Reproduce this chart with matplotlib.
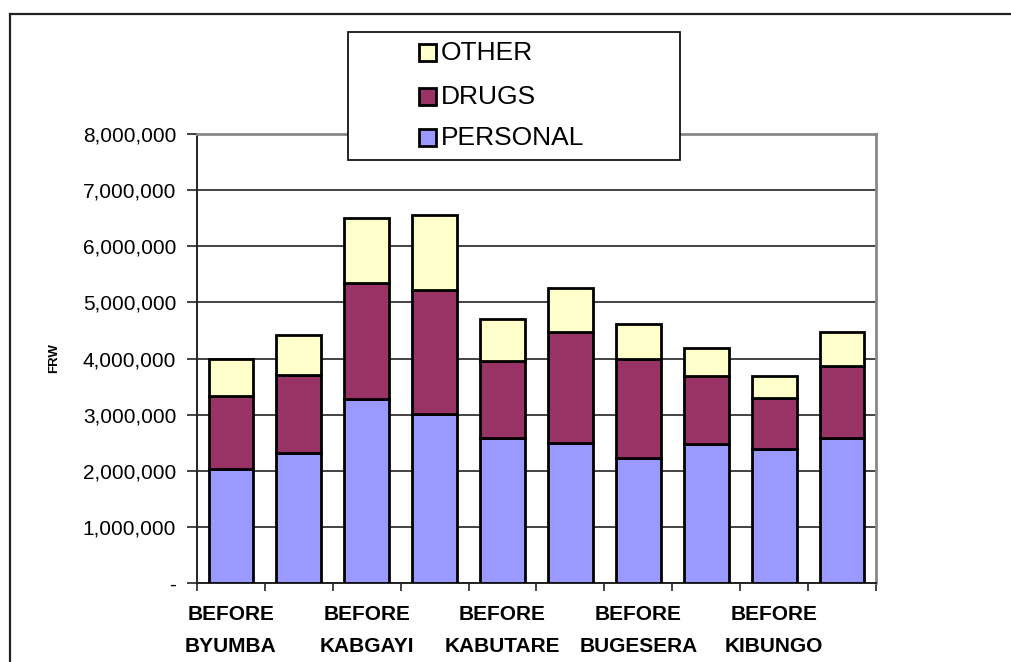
import matplotlib.pyplot as plt
import numpy as np
from matplotlib.patches import Rectangle
from matplotlib.lines import Line2D
from matplotlib.ticker import FuncFormatter

plt.rcParams['font.family'] = ['Liberation Sans', 'DejaVu Sans']

# only every other category gets a visible label
labels = ["BEFORE\nBYUMBA", "", "BEFORE\nKABGAYI", "", "BEFORE\nKABUTARE", "",
          "BEFORE\nBUGESERA", "", "BEFORE\nKIBUNGO", ""]

personal = [2040000, 2310000, 3270000, 3020000, 2590000, 2500000, 2230000, 2480000, 2390000, 2590000]
drugs = [1300000, 1400000, 2070000, 2200000, 1370000, 1980000, 1760000, 1200000, 910000, 1280000]
other = [660000, 710000, 1160000, 1340000, 740000, 770000, 620000, 510000, 380000, 600000]

series_names = ["OTHER", "DRUGS", "PERSONAL"]
col_personal = "#9999FF"
col_drugs = "#993366"
col_other = "#FFFFCC"

W, H = 1012, 662
fig = plt.figure(figsize=(W / 100, H / 100), dpi=100)

def fx(px):
    return px / W

def fy(py):
    return 1 - py / H

# outer chart frame (only top and left edges are inside the canvas)
fig.add_artist(Line2D([fx(10), fx(10)], [0, fy(14)], color="#222222", lw=1.6))
fig.add_artist(Line2D([fx(10), 1], [fy(14), fy(14)], color="#222222", lw=1.6))

ax = fig.add_axes([fx(197), fy(583), fx(876 - 197), (583 - 134) / H])

x = np.arange(len(personal))
w = 0.66
p = np.array(personal)
d = np.array(drugs)
o = np.array(other)

ax.bar(x, p, w, color=col_personal, edgecolor="black", linewidth=2, zorder=3)
ax.bar(x, d, w, bottom=p, color=col_drugs, edgecolor="black", linewidth=2, zorder=3)
ax.bar(x, o, w, bottom=p + d, color=col_other, edgecolor="black", linewidth=2, zorder=3)

ax.set_xlim(-0.5, len(x) - 0.5)
ax.set_ylim(0, 8000000)
ax.set_yticks(np.arange(0, 8000001, 1000000))
ax.yaxis.set_major_formatter(FuncFormatter(lambda v, pos: "-" if v == 0 else f"{int(v):,}"))
ax.grid(axis="y", color="#222222", linewidth=1.2, zorder=0)

ax.set_xticks(x)
ax.set_xticklabels(labels, fontsize=15, fontweight="bold", linespacing=1.85)
ax.set_xticks(np.arange(-0.5, len(x)), minor=True)
ax.tick_params(axis="x", which="major", length=0, pad=16)
ax.tick_params(axis="x", which="minor", length=6, width=1.2, color="#222222", direction="out")
ax.tick_params(axis="y", length=7, width=1.2, color="#222222", labelsize=15, pad=8)

for s in ["left", "bottom"]:
    ax.spines[s].set_color("#222222")
    ax.spines[s].set_linewidth(1.4)
for s in ["top", "right"]:
    ax.spines[s].set_color("#888888")
    ax.spines[s].set_linewidth(2)

ax.set_ylabel("FRW", fontsize=9.5, fontweight="bold", labelpad=16)

# legend box drawn by hand, sitting over the top of the plot area
fig.add_artist(Rectangle((fx(348), fy(160)), fx(680 - 348), (160 - 32) / H,
                         facecolor="white", edgecolor="black", linewidth=1.2, zorder=10))
for name, col, yc in zip(series_names, [col_other, col_drugs, col_personal], [53, 97, 138]):
    fig.add_artist(Rectangle((fx(419), fy(yc + 8)), fx(17), 17 / H, facecolor=col,
                             edgecolor="black", linewidth=2, zorder=11))
    fig.text(fx(441), fy(yc), name, fontsize=19, ha="left", va="center", zorder=12)

fig.savefig("out.png", dpi=100)
